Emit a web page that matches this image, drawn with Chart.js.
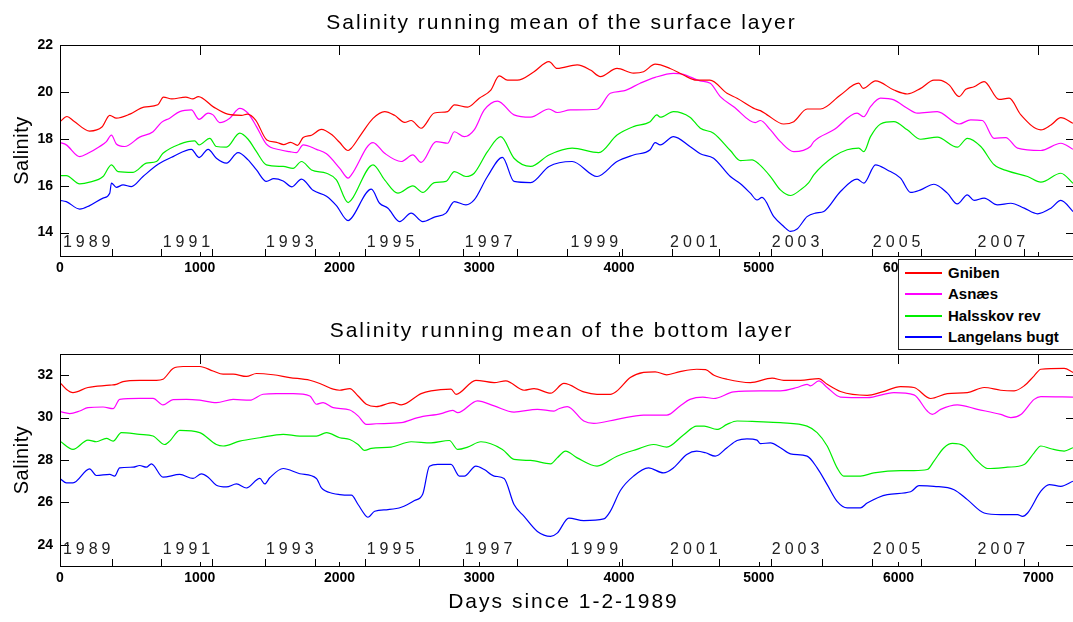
<!DOCTYPE html>
<html><head><meta charset="utf-8">
<script src="https://cdn.jsdelivr.net/npm/chart.js@4/dist/chart.umd.min.js"></script>
<style>
html,body{margin:0;padding:0;background:#fff;}
#wrap{position:relative;width:1073px;height:622px;overflow:hidden;background:#fff;}
.c{position:absolute;left:0;}
#legend{position:absolute;left:898px;top:259px;width:176px;height:89px;border:1px solid #222;background:#fff;font:bold 15px "Liberation Sans",Arial,sans-serif;color:#000;}
.row{position:absolute;left:0;height:22px;width:170px;white-space:nowrap;}
.sw{position:absolute;left:6px;top:10px;width:37px;height:2px;}
.lt{position:absolute;left:49px;top:0;line-height:22px;}
</style>
</head>
<body>
<div id="wrap">
  <canvas id="c1" class="c" width="1073" height="300" style="top:0px"></canvas>
  <canvas id="c2" class="c" width="1073" height="322" style="top:300px"></canvas>
  <div id="legend"></div>
</div>
<script>
// ---------- DATA ----------
const seriesNames = ['Gniben', 'Asnæs', 'Halsskov rev', 'Langelans bugt'];

// Surface layer
const surfGnibenDays = [0,50,100,212,300,356,403,500,600,700,740,800,900,950,990,1100,1200,1300,1340,1400,1480,1550,1600,1650,1700,1740,1800,1870,1950,2000,2062,2085,2156,2240,2323,2394,2466,2513,2584,2679,2774,2822,2917,3000,3083,3143,3202,3273,3392,3499,3558,3701,3796,3867,3986,4104,4176,4259,4366,4461,4556,4651,4773,4845,4976,5012,5060,5179,5251,5346,5442,5585,5716,5747,5836,5967,6063,6159,6254,6290,6362,6434,6482,6541,6613,6720,6792,6876,7019,7091,7162,7249];
const surfGniben     = [18.73,18.95,18.75,18.33,18.5,19.0,18.88,19.05,19.35,19.45,19.78,19.7,19.78,19.7,19.8,19.35,19.05,19.0,19.05,18.8,17.95,17.85,17.75,17.85,17.72,18.05,18.15,18.4,18.15,17.85,17.5,17.6,18.2,18.87,19.16,19.0,18.7,18.78,18.45,19.1,19.16,19.45,19.35,19.73,20.08,20.68,20.5,20.5,20.86,21.29,21.0,21.15,20.93,20.65,21.0,20.8,20.86,21.18,21.0,20.72,20.5,20.5,19.94,19.73,19.27,19.2,19.02,18.63,18.73,19.27,19.27,19.87,20.37,20.15,20.47,20.08,19.91,20.15,20.5,20.5,20.3,19.8,20.11,20.22,20.44,19.68,19.73,19.02,18.38,18.59,18.9,18.66];

const surfAsnaesDays = [0,45,141,200,284,332,368,403,463,570,666,726,785,857,940,995,1060,1095,1143,1215,1286,1346,1406,1477,1573,1644,1692,1740,1835,1907,2002,2062,2085,2240,2323,2442,2525,2584,2691,2774,2822,2893,2964,3036,3131,3249,3368,3499,3558,3653,3843,3938,4033,4152,4259,4390,4461,4580,4653,4725,4821,4976,5012,5084,5155,5251,5370,5394,5537,5704,5752,5800,5872,5967,6063,6135,6278,6434,6517,6601,6685,6768,6852,7019,7162,7249];
const surfAsnaes     = [17.84,17.74,17.24,17.38,17.67,17.88,18.16,17.78,17.67,18.07,18.3,18.7,18.88,19.16,19.23,18.83,19.09,19.02,18.69,18.88,19.3,19.09,18.52,17.77,17.53,17.45,17.41,17.74,17.55,17.36,16.74,16.32,16.46,17.84,17.38,17.03,17.31,16.99,17.88,17.81,18.3,18.09,18.38,19.23,19.61,19.02,18.92,19.27,19.12,19.23,19.26,19.94,20.04,20.37,20.62,20.79,20.75,20.47,20.37,19.8,19.37,18.69,18.78,18.38,17.88,17.45,17.67,17.88,18.38,19.09,18.94,19.37,19.73,19.66,19.3,19.09,19.16,18.63,18.81,18.78,18.02,18.05,17.6,17.5,17.81,17.55];

const surfHalsskovDays = [0,45,141,212,308,368,415,523,618,690,737,857,964,995,1072,1119,1191,1286,1346,1406,1477,1597,1668,1728,1800,1907,1978,2062,2085,2240,2323,2418,2525,2596,2679,2762,2822,2905,2964,3059,3154,3249,3368,3499,3665,3855,3986,4104,4223,4271,4295,4390,4508,4582,4677,4797,4869,4952,5000,5084,5155,5227,5299,5358,5394,5537,5633,5716,5752,5800,5872,5967,6063,6159,6278,6421,6493,6589,6685,6780,6924,7019,7162,7249];
const surfHalsskov     = [16.43,16.43,16.08,16.15,16.39,16.89,16.6,16.57,16.96,17.03,17.38,17.77,17.91,17.74,18.02,17.67,17.64,18.24,17.98,17.45,16.89,16.82,16.74,17.03,16.67,16.53,16.25,15.28,15.39,16.89,16.25,15.68,15.99,15.71,16.13,16.18,16.6,16.39,16.53,17.45,18.09,17.17,16.82,17.31,17.6,17.41,18.16,18.52,18.73,19.02,18.92,19.16,18.92,18.45,18.24,17.5,17.07,17.1,16.93,16.39,15.82,15.58,15.82,16.13,16.46,17.24,17.53,17.6,17.45,18.09,18.63,18.73,18.38,17.98,18.07,17.64,18.02,17.67,16.89,16.63,16.39,16.15,16.53,16.1];

const surfLangelandDays = [0,45,141,212,308,356,368,403,451,511,594,702,809,940,995,1060,1119,1191,1274,1346,1406,1477,1530,1597,1660,1728,1811,1907,1978,2062,2085,2228,2287,2347,2430,2513,2596,2679,2762,2822,2905,2964,3059,3166,3249,3368,3499,3665,3843,3986,4104,4223,4259,4295,4390,4508,4582,4677,4797,4869,4940,4988,5024,5108,5179,5227,5275,5346,5406,5466,5585,5704,5752,5836,5920,6015,6087,6159,6254,6350,6421,6493,6541,6613,6708,6804,6900,6995,7091,7162,7249];
const surfLangeland     = [15.37,15.32,15.0,15.15,15.47,15.68,16.11,15.93,16.03,15.96,16.39,16.91,17.24,17.55,17.2,17.55,17.17,16.96,17.41,17.1,16.67,16.18,16.3,16.2,15.95,16.28,15.8,15.55,15.15,14.51,14.61,15.85,15.25,15.04,14.47,14.83,14.47,14.66,14.83,15.32,15.18,15.39,16.39,17.21,16.18,16.13,16.82,17.03,16.39,17.03,17.31,17.53,17.84,17.74,18.09,17.67,17.36,17.17,16.39,16.08,15.68,15.39,15.5,14.68,14.26,14.05,14.15,14.68,14.83,14.9,15.75,16.28,16.11,16.89,16.67,16.32,15.71,15.82,16.06,15.68,15.22,15.61,15.37,15.47,15.18,15.25,15.04,14.8,15.04,15.37,14.9];

// Bottom layer
const botGnibenDays = [0,45,93,200,356,403,451,570,690,737,809,881,1000,1095,1167,1239,1334,1406,1525,1644,1788,1859,1955,2002,2074,2133,2192,2263,2382,2442,2584,2655,2798,2834,2976,3107,3190,3321,3392,3511,3606,3748,3843,3938,3986,4081,4176,4259,4342,4437,4556,4620,4680,4773,4940,5096,5179,5299,5430,5490,5585,5776,5884,6015,6111,6230,6350,6493,6613,6732,6828,6900,6971,7019,7186,7249];
const botGniben     = [31.65,31.34,31.18,31.42,31.53,31.57,31.7,31.76,31.76,31.81,32.32,32.41,32.41,32.2,32.05,32.05,31.94,32.08,32.02,31.89,31.76,31.61,31.34,31.29,31.37,31.02,30.63,30.52,30.71,30.6,31.13,31.26,31.34,31.1,31.76,31.65,31.73,31.29,31.37,31.15,31.61,31.21,31.1,31.1,31.26,31.89,32.13,32.16,32.02,32.17,32.28,32.26,32.0,31.81,31.65,31.86,31.76,31.76,31.84,31.57,31.23,31.05,31.21,31.46,31.42,30.9,31.13,31.18,31.42,31.29,31.26,31.5,31.97,32.28,32.32,32.13];

const botAsnaesDays = [0,69,141,200,308,380,427,570,666,737,809,905,1000,1119,1239,1358,1453,1549,1668,1788,1835,1883,1955,2074,2133,2192,2263,2442,2561,2727,2810,2846,2988,3107,3249,3416,3535,3570,3630,3748,3820,3986,4176,4342,4437,4508,4600,4677,4821,5012,5155,5275,5346,5370,5430,5490,5585,5776,5967,6111,6206,6242,6302,6421,6565,6732,6804,6876,6971,7019,7249];
const botAsnaes     = [30.28,30.19,30.31,30.47,30.5,30.42,30.86,30.91,30.91,30.6,30.85,30.86,30.82,30.71,30.86,30.82,31.1,31.13,31.13,31.02,30.63,30.71,30.47,30.36,30.08,29.68,29.71,29.76,30.0,30.19,30.34,30.23,30.79,30.55,30.26,30.39,30.31,30.42,30.52,29.84,29.73,29.92,30.12,30.12,30.55,30.86,30.97,30.9,31.21,31.26,31.26,31.42,31.57,31.5,31.73,31.42,30.97,30.94,31.18,31.07,30.31,30.15,30.39,30.6,30.39,30.15,30.0,30.15,30.86,30.99,30.97];

const botHalsskovDays = [0,93,200,260,332,380,439,570,666,749,785,857,1000,1119,1167,1286,1430,1597,1716,1835,1907,2002,2074,2133,2180,2228,2370,2513,2655,2786,2846,2917,3012,3166,3249,3368,3511,3558,3618,3701,3843,3986,4128,4247,4342,4461,4556,4610,4701,4773,4845,4988,5155,5346,5418,5490,5561,5609,5728,5824,6015,6111,6206,6254,6326,6386,6469,6565,6637,6780,6900,6971,7019,7091,7186,7249];
const botHalsskov     = [28.89,28.5,28.94,28.86,29.02,28.89,29.29,29.21,29.13,28.73,28.89,29.4,29.29,28.73,28.66,28.89,29.05,29.21,29.13,29.13,29.29,29.05,28.97,28.73,28.45,28.55,28.61,28.86,28.81,28.92,28.5,28.61,28.86,28.5,28.03,27.98,27.82,28.1,28.42,28.1,27.71,28.18,28.5,28.73,28.61,29.18,29.6,29.6,29.44,29.68,29.84,29.81,29.76,29.6,29.29,28.66,27.63,27.24,27.24,27.39,27.5,27.5,27.55,27.95,28.58,28.78,28.66,27.95,27.6,27.66,27.79,28.34,28.66,28.53,28.42,28.58];

const botLangelandDays = [0,45,93,212,260,356,391,427,523,570,618,654,737,857,952,1012,1060,1119,1191,1263,1334,1430,1465,1501,1597,1716,1835,1871,1955,2002,2062,2085,2133,2192,2204,2252,2347,2442,2537,2596,2644,2703,2798,2858,2893,2976,3036,3107,3178,3249,3321,3416,3511,3558,3641,3748,3891,3938,4010,4104,4211,4318,4390,4485,4556,4620,4689,4773,4845,4916,4988,5012,5084,5155,5227,5346,5418,5490,5561,5633,5728,5776,5920,6087,6147,6254,6398,6493,6613,6732,6852,6888,6924,7019,7079,7162,7249];
const botLangeland     = [27.13,26.92,26.92,27.58,27.27,27.32,27.24,27.63,27.66,27.74,27.66,27.82,27.19,27.32,27.13,27.35,27.19,26.81,26.73,26.87,26.68,27.13,26.87,27.16,27.6,27.35,27.13,26.68,26.42,26.37,26.34,26.34,25.9,25.34,25.3,25.58,25.66,25.77,26.09,26.4,27.71,27.79,27.79,27.24,27.24,27.71,27.55,27.24,27.13,25.9,25.34,24.63,24.4,24.55,25.26,25.14,25.22,25.58,26.56,27.24,27.63,27.39,27.63,28.26,28.42,28.34,28.18,28.58,28.92,29.0,28.94,28.77,28.81,28.58,28.29,28.18,27.63,26.84,26.05,25.74,25.74,25.97,26.37,26.5,26.79,26.76,26.6,26.13,25.5,25.42,25.42,25.34,25.5,26.53,26.84,26.76,27.0];

// Axis ticks / labels
const xTicks = [0,1000,2000,3000,4000,5000,6000,7000];
const xMax = 7249;
const surfYTicks = [14,16,18,20,22];
const botYTicks = [24,26,28,30,32];
const yearLabels = ['1989','1991','1993','1995','1997','1999','2001','2003','2005','2007'];
const yearLabelDays = [191,905,1644,2365,3067,3824,4536,5264,5987,6736];
const yearTickDays = [372,721,1088,1465,1828,2181,2570,2885,3271,3629,4023,4376,4717,5085,5450,5808,6161,6548,6901];

// ---------- STYLE ----------
const FONT = '"Liberation Sans", Arial, Helvetica, sans-serif';
const colors = ['#ff0000', '#ff00ff', '#00ee00', '#0000ff'];

function makeDatasets(daysList, valsList) {
  return valsList.map((vals, i) => ({
    label: seriesNames[i],
    data: daysList[i].map((d, j) => ({x: d, y: vals[j]})),
    borderColor: colors[i],
    backgroundColor: colors[i],
    borderWidth: 1.2,
    pointRadius: 0,
    cubicInterpolationMode: 'monotone',
    fill: false
  }));
}

const decor = {
  id: 'decor',
  afterDatasetsDraw(chart, args, o) {
    const {ctx, chartArea: a} = chart;
    const x = chart.scales.x, y = chart.scales.y;
    ctx.save();
    ctx.strokeStyle = '#000';
    ctx.lineWidth = 1;
    ctx.strokeRect(Math.round(a.left) + 0.5, Math.round(a.top) + 0.5, Math.round(a.right - a.left), Math.round(a.bottom - a.top));
    ctx.beginPath();
    y.ticks.forEach(t => {
      const py = Math.round(y.getPixelForValue(t.value)) + 0.5;
      ctx.moveTo(a.left, py); ctx.lineTo(a.left + 9, py);
      ctx.moveTo(a.right, py); ctx.lineTo(a.right - 7, py);
    });
    x.ticks.forEach(t => {
      const px = Math.round(x.getPixelForValue(t.value)) + 0.5;
      ctx.moveTo(px, a.top); ctx.lineTo(px, a.top + 10);
      ctx.moveTo(px, a.bottom); ctx.lineTo(px, a.bottom - 4);
    });
    yearTickDays.forEach(d => {
      const px = Math.round(x.getPixelForValue(d)) + 0.5;
      ctx.moveTo(px, a.bottom); ctx.lineTo(px, a.bottom - 7);
    });
    ctx.stroke();

    // year labels
    ctx.fillStyle = '#222';
    ctx.font = '16px ' + FONT;
    ctx.textAlign = 'center';
    ctx.textBaseline = 'alphabetic';
    ctx.letterSpacing = '4px';
    yearLabelDays.forEach((d, i) => {
      ctx.fillText(yearLabels[i], x.getPixelForValue(d) + 2, a.bottom - o.yearOffset);
    });

    // main title
    ctx.fillStyle = '#000';
    ctx.font = '21px ' + FONT;
    ctx.letterSpacing = '2px';
    ctx.fillText(o.title, 561.5, o.titleY);

    // x title
    if (o.xTitle) {
      ctx.fillText(o.xTitle, 563.5, o.xTitleY);
    }

    // y title
    ctx.letterSpacing = '0.5px';
    ctx.font = '20px ' + FONT;
    ctx.translate(22, (a.top + a.bottom) / 2);
    ctx.rotate(-Math.PI / 2);
    ctx.textBaseline = 'middle';
    ctx.fillText('Salinity', 0, 0);
    ctx.letterSpacing = '0px';
    ctx.restore();
  }
};

function makeChart(id, datasets, yMin, yMax, yTicks, padTop, xHeight, decorOpts) {
  return new Chart(document.getElementById(id), {
    type: 'line',
    data: {datasets},
    options: {
      responsive: false,
      maintainAspectRatio: false,
      devicePixelRatio: 1,
      animation: false,
      events: [],
      layout: {padding: {top: padTop, right: 0, left: 0, bottom: 0}},
      plugins: {legend: {display: false}, tooltip: {enabled: false}, title: {display: false}, decor: decorOpts},
      scales: {
        x: {
          type: 'linear', min: 0, max: xMax,
          grid: {display: false, drawTicks: false},
          border: {display: false},
          afterBuildTicks: s => { s.ticks = xTicks.map(v => ({value: v})); },
          afterFit: s => { s.height = xHeight; },
          ticks: {padding: 4, color: '#000', font: {family: FONT, size: 14, weight: 'bold'}, maxRotation: 0, autoSkip: false,
                  callback: v => String(v)}
        },
        y: {
          type: 'linear', min: yMin, max: yMax,
          grid: {display: false, drawTicks: false},
          border: {display: false},
          afterBuildTicks: s => { s.ticks = yTicks.map(v => ({value: v})); },
          afterFit: s => { s.width = 60; },
          ticks: {padding: 7, color: '#000', font: {family: FONT, size: 14, weight: 'bold'}, callback: v => String(v)}
        }
      }
    },
    plugins: [decor]
  });
}

makeChart('c1',
  makeDatasets([surfGnibenDays, surfAsnaesDays, surfHalsskovDays, surfLangelandDays],
               [surfGniben, surfAsnaes, surfHalsskov, surfLangeland]),
  13, 22, surfYTicks, 45, 44,
  {title: 'Salinity running mean of the surface layer', titleY: 28.5, yearOffset: 9.5});

makeChart('c2',
  makeDatasets([botGnibenDays, botAsnaesDays, botHalsskovDays, botLangelandDays],
               [botGniben, botAsnaes, botHalsskov, botLangeland]),
  23, 33, botYTicks, 54, 56,
  {title: 'Salinity running mean of the bottom layer', titleY: 36.7, yearOffset: 12.5,
   xTitle: 'Days since 1-2-1989', xTitleY: 308});

// HTML legend
const leg = document.getElementById('legend');
seriesNames.forEach((n, i) => {
  const r = document.createElement('div');
  r.className = 'row';
  r.style.top = (2 + Math.round(i * 21.3)) + 'px';
  const sw = document.createElement('div');
  sw.className = 'sw';
  sw.style.background = colors[i];
  const t = document.createElement('div');
  t.className = 'lt';
  t.textContent = n;
  r.appendChild(sw); r.appendChild(t);
  leg.appendChild(r);
});
</script>
</body></html>
